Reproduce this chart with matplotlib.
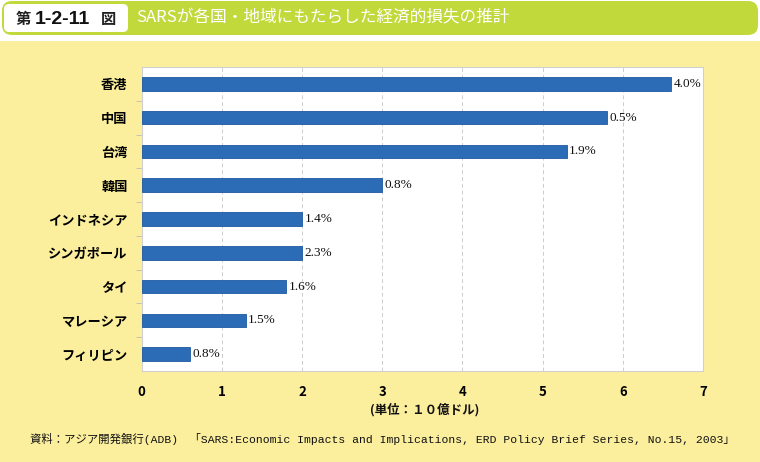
import matplotlib
matplotlib.use("Agg")
import matplotlib.pyplot as plt
from matplotlib.patches import FancyBboxPatch, Rectangle

plt.rcParams['font.family'] = ['Noto Sans CJK JP', 'DejaVu Sans']

categories = ["香港", "中国", "台湾", "韓国", "インドネシア", "シンガポール", "タイ", "マレーシア", "フィリピン"]
values = [6.6, 5.8, 5.3, 3.0, 2.0, 2.0, 1.8, 1.3, 0.6]
pct_labels = ["4.0%", "0.5%", "1.9%", "0.8%", "1.4%", "2.3%", "1.6%", "1.5%", "0.8%"]
xticks = [0, 1, 2, 3, 4, 5, 6, 7]

title_num = "1-2-11"
title_text = "SARSが各国・地域にもたらした経済的損失の推計"
unit_note = "(%：対GDP 比)"
xlabel = "(単位：１０億ドル)"
source = "資料：アジア開発銀行(ADB)　「SARS:Economic Impacts and Implications, ERD Policy Brief Series, No.15, 2003」"

W, H = 760, 462
fig = plt.figure(figsize=(W / 100, H / 100), dpi=100)
fig.patch.set_facecolor("white")

# background panels in figure pixel coords
bg = fig.add_axes([0, 0, 1, 1])
bg.set_xlim(0, W)
bg.set_ylim(H, 0)
bg.axis("off")
green = "#C2D93C"
yellow = "#FBEF9E"
bg.add_patch(FancyBboxPatch((2, 1), W - 4, 34, boxstyle="round,pad=0,rounding_size=10",
                            fc=green, ec="none"))
bg.add_patch(FancyBboxPatch((4, 4), 124, 28, boxstyle="round,pad=0,rounding_size=5",
                            fc="white", ec="none"))
bg.add_patch(Rectangle((0, 41), W, H - 41, fc=yellow, ec="none"))
bg.text(16, 19, "第", fontsize=11, fontweight="bold", va="center", ha="left", color="#222222")
bg.text(35, 19, title_num, fontsize=14, fontweight="bold", va="center", ha="left",
        color="#111111", family=["Liberation Sans"])
bg.text(101, 19, "図", fontsize=11, fontweight="bold", va="center", ha="left", color="#222222")
bg.text(136, 18, title_text, fontsize=12, va="center", ha="left", color="white")
bg.text(622, 238, unit_note, fontsize=9, fontweight="bold", va="center", ha="center", color="#111111")
bg.text(425, 410, xlabel, fontsize=9, fontweight="bold", va="center", ha="center", color="#111111")
bg.text(30, 439, source, fontsize=8.2, va="center", ha="left", color="#111111",
        family=["Liberation Mono", "Noto Sans CJK JP"])

# main chart
ax = fig.add_axes([141.5 / W, 1 - 371 / H, 561.5 / W, 304 / H])
ax.set_facecolor("white")
ypos = list(range(len(categories)))
bars = ax.barh(ypos, values, height=0.4, color="#2C6CB6", edgecolor="#1F5AA0", linewidth=0.6,
               zorder=3)
for b, lab in zip(bars, pct_labels):
    ax.text(b.get_width() + 0.03, b.get_y() + b.get_height() / 2, lab, va="center", ha="left",
            fontsize=9.5, family=["Liberation Serif"], color="#111111", zorder=4)

ax.set_xlim(0, 7)
ax.set_ylim(len(categories) - 0.5, -0.5)
ax.set_xticks(xticks)
ax.set_xticklabels([str(t) for t in xticks], fontsize=9.5, fontweight="bold")
ax.tick_params(axis="x", length=0, pad=10)
ax.set_yticks(ypos)
ax.set_yticklabels(categories, fontsize=9.5, fontweight="bold")
ax.tick_params(axis="y", length=0, pad=10)
ax.set_yticks([i + 0.5 for i in range(len(categories) - 1)], minor=True)
ax.tick_params(axis="y", which="minor", length=4, color="#BBBBBB", direction="out")
ax.grid(axis="x", linestyle=(0, (4, 3)), color="#CCCCCC", linewidth=0.7, zorder=0)
for s in ax.spines.values():
    s.set_color("#D0D0D0")
    s.set_linewidth(0.8)

fig.savefig("out.png", dpi=100, facecolor=fig.get_facecolor())
